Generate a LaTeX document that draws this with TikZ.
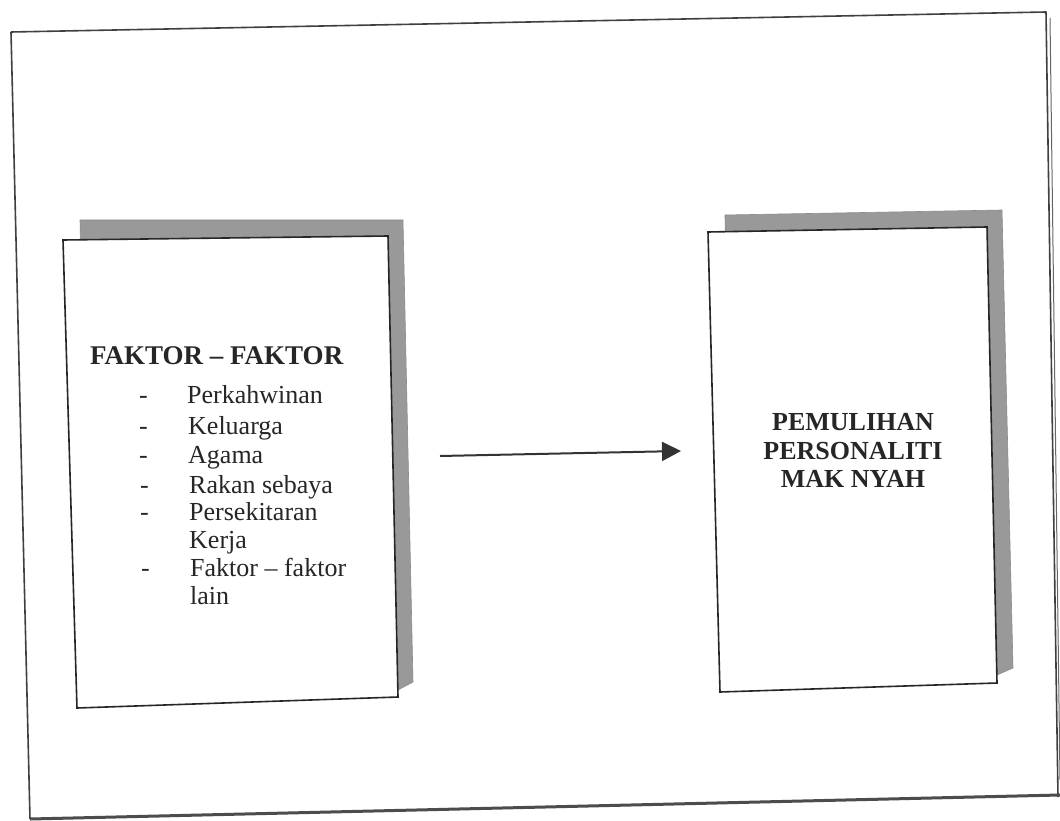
\documentclass[tikz,border=0pt]{standalone}
\usepackage{fontspec}
\setmainfont{Liberation Serif}
\usetikzlibrary{arrows.meta}
\tikzset{
  frameline/.style={draw=black!75, line width=1.6pt, line join=round},
  shadowbox/.style={fill=black!40, draw=black!45, line width=0.6pt},
  frontbox/.style={fill=white, draw=black!85, line width=1.6pt},
  itemtxt/.style={anchor=base west, inner sep=0pt, font=\fontsize{26}{29}\selectfont, text=black!85},
  headtxt/.style={anchor=base west, inner sep=0pt, font=\fontsize{27}{29}\selectfont\bfseries, text=black!85},
  righttxt/.style={anchor=base, inner sep=0pt, font=\fontsize{26}{29}\selectfont\bfseries, text=black!85},
  flow/.style={draw=black!80, line width=2pt, -{Triangle[length=19pt,width=19pt]}}
}
\begin{document}
\begin{tikzpicture}[x=1pt,y=-1pt]
\useasboundingbox (0,0) rectangle (1060,821);
\fill[white] (0,0) rectangle (1060,821);
% outer frame
\draw[frameline] (11,32) -- (1046,12) -- (1058,797);
\draw[frameline] (11,32) -- (30,819);
\draw[draw=black!70, line width=3pt] (30,819) -- (1060,795);
\draw[draw=black!60, line width=1pt] (1050,18) -- (1060,780);
% left box
\draw[shadowbox] (80,220) -- (403,220) -- (413,682) -- (398,690) -- (90,700) -- cycle;
\draw[frontbox] (63,240) -- (388,236) -- (398,697) -- (77,708) -- cycle;
% right box
\draw[shadowbox] (725,215) -- (1002,210) -- (1013,668) -- (997,675) -- (730,685) -- cycle;
\draw[frontbox] (708,232) -- (987,227) -- (997,683) -- (720,692) -- cycle;
% left text
\node[headtxt] (head) at (90,364) {FAKTOR – FAKTOR};
\node[itemtxt] (d1) at (139,403) {-};
\node[itemtxt] (t1) at (187,403) {Perkahwinan};
\node[itemtxt] (d2) at (139,434) {-};
\node[itemtxt] (t2) at (188,434) {Keluarga};
\node[itemtxt] (d3) at (139,463) {-};
\node[itemtxt] (t3) at (188,463) {Agama};
\node[itemtxt] (d4) at (140,493) {-};
\node[itemtxt] (t4) at (189,493) {Rakan sebaya};
\node[itemtxt] (d5) at (140,520) {-};
\node[itemtxt] (t5) at (189,520) {Persekitaran};
\node[itemtxt] (t5b) at (189,548) {Kerja};
\node[itemtxt] (d6) at (141,576) {-};
\node[itemtxt] (t6) at (190,576) {Faktor – faktor};
\node[itemtxt] (t6b) at (190,604) {lain};
% right text
\node[righttxt] (r1) at (853,430) {PEMULIHAN};
\node[righttxt] (r2) at (853,459) {PERSONALITI};
\node[righttxt] (r3) at (853,487) {MAK NYAH};
% arrow
\coordinate (as) at (440,456);
\coordinate (ae) at (681,451);
\draw[flow] (as) -- (ae);
\end{tikzpicture}
\end{document}
